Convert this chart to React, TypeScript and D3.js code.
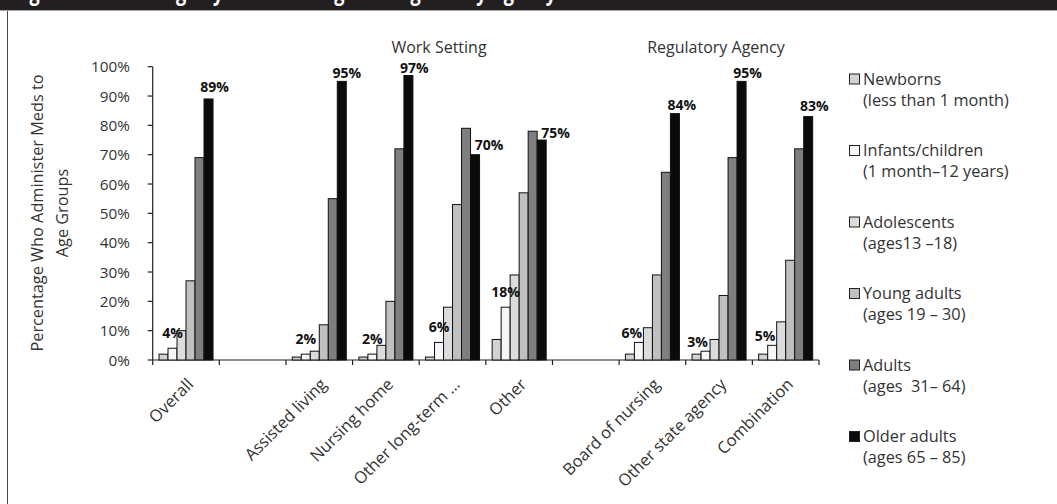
import React, { useEffect } from "react";
import * as d3 from "d3";

// Categories along the x axis (blank slots separate the three blocks)
const categories = [
  "Overall",
  "",
  "Assisted living",
  "Nursing home",
  "Other long-term ...",
  "Other",
  "",
  "Board of nursing",
  "Other state agency",
  "Combination",
];

// Percentage of nurses who administer meds to each age group
const newborns = [2, null, 1, 1, 1, 7, null, 2, 2, 2];
const infants = [4, null, 2, 2, 6, 18, null, 6, 3, 5];
const adolescents = [10, null, 3, 5, 18, 29, null, 11, 7, 13];
const youngAdults = [27, null, 12, 20, 53, 57, null, 29, 22, 34];
const adults = [69, null, 55, 72, 79, 78, null, 64, 69, 72];
const olderAdults = [89, null, 95, 97, 70, 75, null, 84, 95, 83];

const seriesNames = ["Newborns", "Infants/children", "Adolescents", "Young adults", "Adults", "Older adults"];
const seriesSubtitles = [
  "(less than 1 month)",
  "(1 month\u201312 years)",
  "(ages13 \u201318)",
  "(ages 19 \u2013 30)",
  "(ages  31\u2013 64)",
  "(ages 65 \u2013 85)",
];
const seriesValues = [newborns, infants, adolescents, youngAdults, adults, olderAdults];
const seriesColors = ["#d3d3d3", "#f4f6f9", "#dcdcdc", "#c0c0c0", "#7f7f7f", "#0b0b0b"];

const yTicks = [0, 10, 20, 30, 40, 50, 60, 70, 80, 90, 100];

const groupTitles = ["Work Setting", "Regulatory Agency"];

// Which series carry value labels, and small horizontal nudges per category
const labelledSeries = [1, 5];
const infantLabelNudge = [0, 0, 0, 0, 0, 0, 0, -7, -8, -7];
const olderLabelNudge = [6, 0, 5, 6, 14, 14, 0, 7, 6, 6];
const olderLabelGap = [7, 0, 3, 2, 5, 2, 0, 4, 3, 6];

const FONT = "'Open Sans', Lato, sans-serif";

export default function App() {
  useEffect(() => {
    document.body.style.margin = "0";
  }, []);

  const width = 1057;
  const height = 504;
  const left = 152.7;
  const right = 819;
  const top = 66.7;
  const bottom = 360;

  const x = d3
    .scaleBand<number>()
    .domain(d3.range(categories.length))
    .range([left, right])
    .paddingInner(0)
    .paddingOuter(0);

  const xs = d3
    .scaleBand<number>()
    .domain(d3.range(seriesNames.length))
    .range([0, x.bandwidth()])
    .paddingInner(0)
    .paddingOuter(0.7);

  const y = d3.scaleLinear().domain([0, 100]).range([bottom, top]);
  const fmt = (v: number) => `${v}%`;

  const boundaries = d3.range(categories.length + 1).map((i) => left + i * x.step());

  return (
    <svg width={width} height={height} style={{ display: "block", background: "#fff" }}>
      {/* heading band */}
      <rect x={0} y={0} width={width} height={10} fill="#231f20" />
      <line x1={0} x2={width} y1={10.5} y2={10.5} stroke="#a7a7a7" strokeWidth={1} />
      <text
        x={14}
        y={0}
        fill="#fff"
        fontFamily={FONT}
        fontWeight={700}
        fontSize={24}
        textLength={542}
        lengthAdjust="spacingAndGlyphs"
      >
        Figure 2. Percentage by Work Setting and Regulatory Agency
      </text>
      <line x1={7.5} x2={7.5} y1={11} y2={height} stroke="#4a4a4a" strokeWidth={1} />

      {/* y axis title */}
      <g transform={`translate(37, 213) rotate(-90)`} fontFamily={FONT} fontSize={16.3} fill="#333">
        <text x={0} y={0} textAnchor="middle" dy="0.35em">
          Percentage Who Administer Meds to
        </text>
        <text x={0} y={25} textAnchor="middle" dy="0.35em">
          Age Groups
        </text>
      </g>

      {/* y axis */}
      <line x1={left} x2={left} y1={top} y2={bottom} stroke="#222" strokeWidth={1.2} />
      {yTicks.map((t) => (
        <g key={t}>
          <line x1={left - 5} x2={left} y1={y(t)} y2={y(t)} stroke="#222" strokeWidth={1.2} />
          <text
            x={130}
            y={y(t)}
            dy="0.36em"
            textAnchor="end"
            fontFamily={FONT}
            fontSize={15.3}
            fill="#333"
          >
            {fmt(t)}
          </text>
        </g>
      ))}

      {/* x axis */}
      <line x1={left} x2={right} y1={bottom} y2={bottom} stroke="#222" strokeWidth={1.2} />
      {boundaries.map((bx, i) => (
        <line key={i} x1={bx} x2={bx} y1={bottom} y2={bottom + 5} stroke="#222" strokeWidth={1.2} />
      ))}
      {categories.map((c, i) =>
        c ? (
          <text
            key={i}
            transform={`translate(${x(i)! + x.bandwidth() / 2}, 377) rotate(-45)`}
            textAnchor="end"
            dy="0.72em"
            fontFamily={FONT}
            fontSize={16.5}
            fill="#333"
          >
            {c}
          </text>
        ) : null
      )}

      {/* group headings */}
      <text x={439} y={52.5} textAnchor="middle" fontFamily={FONT} fontSize={16} fill="#333">
        {groupTitles[0]}
      </text>
      <text x={716} y={52.5} textAnchor="middle" fontFamily={FONT} fontSize={16} fill="#333">
        {groupTitles[1]}
      </text>

      {/* bars */}
      {seriesValues.map((vals, s) => (
        <g key={s}>
          {vals.map((v, i) =>
            v == null ? null : (
              <rect
                key={i}
                x={x(i)! + xs(s)!}
                y={y(v)}
                width={xs.bandwidth()}
                height={y(0) - y(v)}
                fill={seriesColors[s]}
                stroke="#111"
                strokeWidth={1}
              />
            )
          )}
        </g>
      ))}

      {/* value labels */}
      {labelledSeries.map((s) =>
        seriesValues[s].map((v, i) => {
          if (v == null) return null;
          const cx = x(i)! + xs(s)! + xs.bandwidth() / 2;
          const isOlder = s === 5;
          const dx = isOlder ? olderLabelNudge[i] : infantLabelNudge[i];
          const gap = isOlder ? olderLabelGap[i] : i >= 7 ? 4 : 10;
          return (
            <text
              key={`${s}-${i}`}
              x={cx + dx}
              y={y(v) - gap}
              textAnchor="middle"
              fontFamily={FONT}
              fontWeight={700}
              fontSize={14}
              fill="#111"
            >
              {fmt(v)}
            </text>
          );
        })
      )}

      {/* legend */}
      {seriesNames.map((n, s) => {
        const ly = 79 + s * 71.5;
        return (
          <g key={n} fontFamily={FONT} fontSize={16.3} fill="#333">
            <rect
              x={849.5}
              y={ly - 5}
              width={10}
              height={10}
              fill={seriesColors[s]}
              stroke="#222"
              strokeWidth={1}
            />
            <text x={863} y={ly} dy="0.36em">
              {n}
            </text>
            <text x={863} y={ly + 21} dy="0.36em" style={{ whiteSpace: "pre" }}>
              {seriesSubtitles[s]}
            </text>
          </g>
        );
      })}
    </svg>
  );
}
